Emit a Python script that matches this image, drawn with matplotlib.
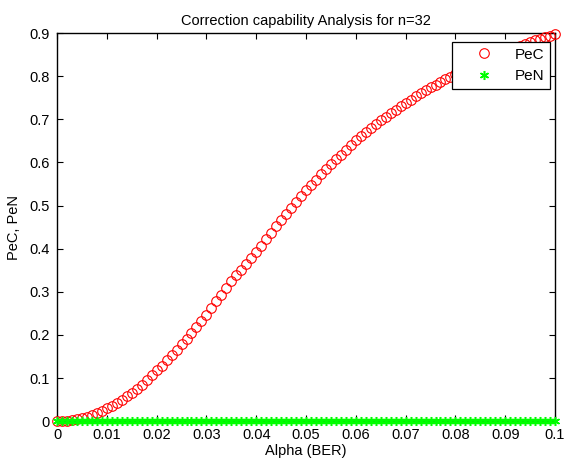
import numpy as np
import matplotlib
matplotlib.use("Agg")
import matplotlib.pyplot as plt

plt.rcParams["font.family"] = ["Liberation Sans", "DejaVu Sans"]
plt.rcParams["font.size"] = 10.5

# bit error rate grid (0 .. 0.1, step 0.001)
alpha = np.linspace(0.0, 0.1, 101)

# probability of correct correction
pec = [
    0.000, 0.000, 0.001, 0.002, 0.004, 0.007, 0.010, 0.014, 0.018, 0.024,
    0.030, 0.036, 0.043, 0.050, 0.058, 0.066, 0.075, 0.085, 0.095, 0.106,
    0.118, 0.129, 0.141, 0.153, 0.165, 0.178, 0.191, 0.205, 0.219, 0.233,
    0.247, 0.262, 0.278, 0.293, 0.309, 0.324, 0.338, 0.351, 0.365, 0.378,
    0.392, 0.407, 0.422, 0.437, 0.452, 0.466, 0.480, 0.494, 0.508, 0.522,
    0.535, 0.547, 0.560, 0.572, 0.584, 0.596, 0.607, 0.618, 0.629, 0.640,
    0.651, 0.661, 0.670, 0.680, 0.689, 0.698, 0.706, 0.714, 0.722, 0.730,
    0.738, 0.745, 0.753, 0.760, 0.767, 0.774, 0.780, 0.787, 0.793, 0.799,
    0.805, 0.811, 0.817, 0.822, 0.828, 0.833, 0.838, 0.843, 0.848, 0.853,
    0.858, 0.862, 0.866, 0.871, 0.875, 0.879, 0.883, 0.886, 0.890, 0.893,
    0.897,
]
# probability of no correction
pen = [0.0] * 101

xticks = [0, 0.01, 0.02, 0.03, 0.04, 0.05, 0.06, 0.07, 0.08, 0.09, 0.1]
xticklabels = ["0", "0.01", "0.02", "0.03", "0.04", "0.05", "0.06", "0.07", "0.08", "0.09", "0.1"]
yticks = [0, 0.1, 0.2, 0.3, 0.4, 0.5, 0.6, 0.7, 0.8, 0.9]
yticklabels = ["0", "0.1", "0.2", "0.3", "0.4", "0.5", "0.6", "0.7", "0.8", "0.9"]

fig = plt.figure(figsize=(5.64, 4.63), dpi=100)
ax = fig.add_axes([0.1011, 0.0903, 0.883, 0.8384])

ax.plot(alpha, pec, "o", ls="none", mfc="none", mec="red", ms=6.9, mew=0.8,
        label="PeC", clip_on=False, zorder=3)
ax.plot(alpha, pen, ls="none", marker=(6, 2, 0), color="#00ff00", ms=6.5, mew=1.1,
        label="PeN", clip_on=False, zorder=4)

ax.set_xlim(0, 0.1)
ax.set_ylim(0, 0.9)
ax.set_xticks(xticks)
ax.set_xticklabels(xticklabels)
ax.set_yticks(yticks)
ax.set_yticklabels(yticklabels)
ax.tick_params(direction="in", top=True, right=True, length=4, width=0.8, pad=5)
for s in ax.spines.values():
    s.set_linewidth(1.0)

ax.set_title("Correction capability Analysis for n=32", fontsize=10.5, pad=6)
ax.set_xlabel("Alpha (BER)", labelpad=1)
ax.set_ylabel("PeC, PeN", labelpad=6)

leg = ax.legend(loc="upper right", bbox_to_anchor=(0.99, 0.978), fancybox=False,
                framealpha=1, edgecolor="black", borderpad=0.4, handlelength=3.4,
                handletextpad=0.3, labelspacing=0.5, borderaxespad=0, fontsize=11)
leg.get_frame().set_linewidth(0.9)

fig.savefig("out.png", dpi=100)
